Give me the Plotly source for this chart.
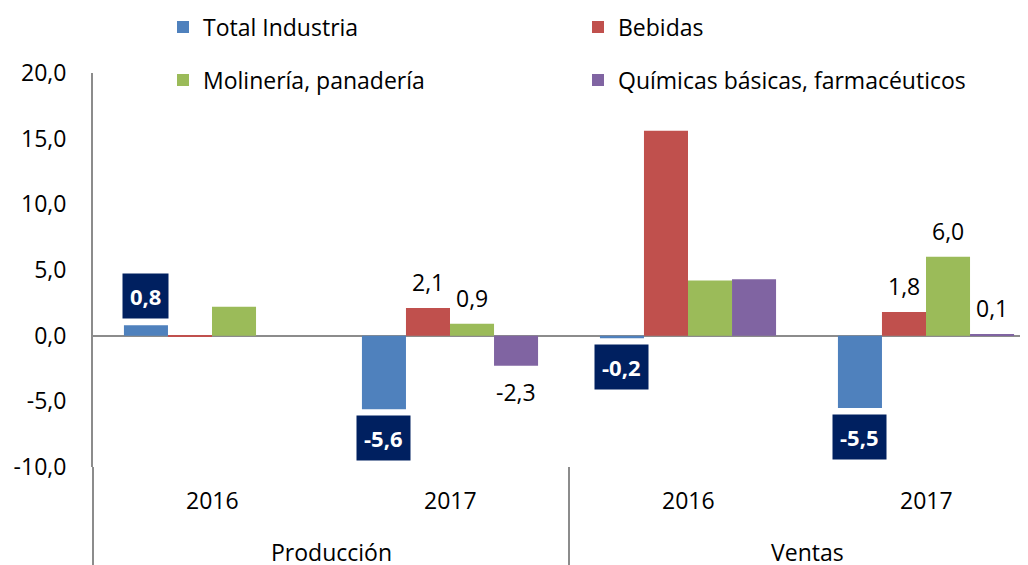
import plotly.graph_objects as go

# ---- data ----
groups = ["Producción", "Producción", "Ventas", "Ventas"]
years = ["2016", "2017", "2016", "2017"]
series_names = ["Total Industria", "Bebidas", "Molinería, panadería", "Químicas básicas, farmacéuticos"]
total_industria = [0.8, -5.6, -0.2, -5.5]
bebidas = [-0.1, 2.1, 15.6, 1.8]
molineria = [2.2, 0.9, 4.2, 6.0]
quimicas = [0.0, -2.3, 4.3, 0.1]
show_label_total = [True, True, True, True]
show_label_bebidas = [False, True, False, True]
show_label_molineria = [False, True, False, True]
show_label_quimicas = [False, True, False, True]
ytick_vals = [-10, -5, 0, 5, 10, 15, 20]
ytick_text = ["-10,0", "-5,0", "0,0", "5,0", "10,0", "15,0", "20,0"]

colors = ["#4F81BD", "#C0504D", "#9BBB59", "#8064A2"]
box_color = "#002060"
FONT = "Open Sans"

# page geometry (the page body has an 8px default margin)
OFF = 8
W, H = 1028, 565
PLOT_L, PLOT_R, PLOT_T, PLOT_B = 93, 1028, 73, 467  # target plot area in window pixels
ML = PLOT_L - OFF
MT = PLOT_T - OFF
MR = W + OFF - PLOT_R
MB = H + OFF - PLOT_B
plot_w = PLOT_R - PLOT_L
plot_h = PLOT_B - PLOT_T
cat_px = 238.0
x_min = -0.5
x_max = x_min + plot_w / cat_px
bargap = 0.26
bw = (1 - bargap) / 4

all_series = [total_industria, bebidas, molineria, quimicas]
all_flags = [show_label_total, show_label_bebidas, show_label_molineria, show_label_quimicas]
xs = list(range(len(years)))

fig = go.Figure()
for k, (name, vals) in enumerate(zip(series_names, all_series)):
    fig.add_trace(go.Bar(
        x=xs, y=vals, name=name,
        marker=dict(color=colors[k], line=dict(width=0)),
        legend="legend" if k < 2 else "legend2",
    ))

def fmt(v):
    return f"{v:.1f}".replace(".", ",")

annotations = []
for k, (vals, flags) in enumerate(zip(all_series, all_flags)):
    for i, (v, f) in enumerate(zip(vals, flags)):
        if not f:
            continue
        xpos = i + (k - 1.5) * bw
        sgn = 1 if v >= 0 else -1
        if k == 0:
            annotations.append(dict(
                x=xpos, y=v, xref="x", yref="y", text="<b>" + fmt(v) + "</b>",
                showarrow=False, yanchor="middle", yshift=sgn * 29,
                bgcolor=box_color, borderpad=7,
                font=dict(family=FONT, size=22, color="white")))
        else:
            annotations.append(dict(
                x=xpos, y=v, xref="x", yref="y", text=fmt(v),
                showarrow=False, yanchor="middle", yshift=sgn * 26,
                font=dict(family=FONT, size=23, color="black")))

# category labels
for i, yr in enumerate(years):
    annotations.append(dict(x=i, y=0, xref="x", yref="paper", text=yr, showarrow=False,
                            yanchor="middle", yshift=-33,
                            font=dict(family=FONT, size=23, color="black")))
group_names = []
for g in groups:
    if g not in group_names:
        group_names.append(g)
for g in group_names:
    idx = [i for i, gg in enumerate(groups) if gg == g]
    annotations.append(dict(x=sum(idx) / len(idx), y=0, xref="x", yref="paper", text=g,
                            showarrow=False, yanchor="middle", yshift=-85,
                            font=dict(family=FONT, size=23, color="black")))

ext = -(H - PLOT_B) / plot_h
shapes = [
    dict(type="line", xref="paper", yref="paper", x0=0, x1=0, y0=0, y1=ext,
         line=dict(color="#8C8C8C", width=2)),
]
for i in range(1, len(groups)):
    if groups[i] != groups[i - 1]:
        shapes.append(dict(type="line", xref="x", yref="paper", x0=i - 0.5, x1=i - 0.5,
                           y0=0, y1=ext, line=dict(color="#8C8C8C", width=2)))

def py(px_from_top):
    return (PLOT_B - px_from_top) / plot_h

def px_x(px_from_left):
    return (px_from_left - PLOT_L) / plot_w

legend_common = dict(orientation="h", xref="paper", yref="paper",
                     xanchor="left", yanchor="middle",
                     entrywidth=370, entrywidthmode="pixels",
                     font=dict(family=FONT, size=23, color="black"),
                     bgcolor="rgba(0,0,0,0)")

fig.update_layout(
    width=W, height=H, autosize=False,
    margin=dict(l=ML, r=MR, t=MT, b=MB, autoexpand=False),
    paper_bgcolor="white", plot_bgcolor="white",
    barmode="group", bargap=bargap, bargroupgap=0,
    font=dict(family=FONT, size=23, color="black"),
    xaxis=dict(range=[x_min, x_max], showticklabels=False, showgrid=False,
               zeroline=False, showline=False, ticks="", fixedrange=True),
    yaxis=dict(range=[-10, 20], tickvals=ytick_vals, ticktext=ytick_text,
               showgrid=False, zeroline=True, zerolinecolor="#8C8C8C", zerolinewidth=2,
               showline=True, linecolor="#8C8C8C", linewidth=2, ticks="",
               tickfont=dict(family=FONT, size=23, color="black"), ticklabelstandoff=20),
    legend=dict(x=px_x(163), y=py(27), **legend_common),
    legend2=dict(x=px_x(163), y=py(80), **legend_common),
    annotations=annotations,
    shapes=shapes,
    showlegend=True,
)

fig.write_html("out.html")
